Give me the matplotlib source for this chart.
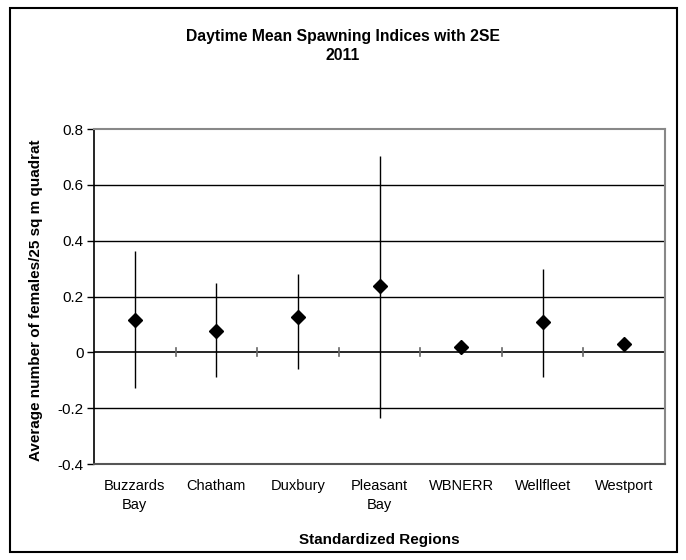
import matplotlib.pyplot as plt
from matplotlib.patches import Rectangle

plt.rcParams['font.family'] = ['Liberation Sans', 'DejaVu Sans']

regions = ['Buzzards\nBay', 'Chatham', 'Duxbury', 'Pleasant\nBay', 'WBNERR', 'Wellfleet', 'Westport']
means = [0.117, 0.075, 0.125, 0.238, 0.020, 0.108, 0.030]
upper = [0.364, 0.249, 0.280, 0.705, 0.020, 0.297, 0.030]
lower = [-0.127, -0.088, -0.058, -0.234, 0.020, -0.087, 0.030]
yticks = [-0.4, -0.2, 0, 0.2, 0.4, 0.6, 0.8]
ytick_labels = ['-0.4', '-0.2', '0', '0.2', '0.4', '0.6', '0.8']

fig = plt.figure(figsize=(6.86, 5.6), dpi=100)
ax = fig.add_axes([94 / 686, 1 - 464 / 560, 571 / 686, 335 / 560])

x = list(range(len(regions)))
err_lo = [m - lo for m, lo in zip(means, lower)]
err_hi = [hi - m for m, hi in zip(means, upper)]
ax.errorbar(x, means, yerr=[err_lo, err_hi], fmt='none', ecolor='black', elinewidth=1.0, capsize=0, zorder=3)
ax.plot(x, means, 'D', color='black', markersize=7, zorder=4)

# horizontal gridlines and the category axis along zero
for yv in [-0.2, 0.2, 0.4, 0.6]:
    ax.axhline(yv, color='black', lw=1.0, zorder=1)
ax.axhline(0, color='black', lw=1.2, zorder=2)
for b in [i + 0.5 for i in range(len(regions))]:
    ax.plot([b, b], [-0.014, 0.014], color='#666666', lw=1.2, zorder=2, clip_on=False)

ax.set_xlim(-0.5, len(regions) - 0.5)
ax.set_ylim(-0.4, 0.8)
ax.set_yticks(yticks)
ax.set_yticklabels(ytick_labels, fontsize=11)
ax.tick_params(axis='y', direction='out', length=5, width=1, color='black', pad=2.5)
ax.set_xticks(x)
ax.set_xticklabels(regions, fontsize=10.5, linespacing=1.45)
ax.tick_params(axis='x', length=0, pad=11)

for side in ['top', 'right', 'bottom']:
    ax.spines[side].set_color('#888888')
    ax.spines[side].set_linewidth(1.5)
ax.spines['bottom'].set_color('#555555')
ax.spines['left'].set_color('black')
ax.spines['left'].set_linewidth(1.2)

ax.set_ylabel('Average number of females/25 sq m quadrat', fontsize=11, fontweight='bold')
ax.yaxis.set_label_coords(-0.09, 0.49)
ax.set_xlabel('Standardized Regions', fontsize=11, fontweight='bold')
ax.xaxis.set_label_coords(0.5, -0.207)

fig.text(0.5, 1 - 36 / 560, 'Daytime Mean Spawning Indices with 2SE', ha='center', va='center',
         fontsize=11.3, fontweight='bold')
fig.text(0.5, 1 - 55 / 560, '2011', ha='center', va='center', fontsize=11.3, fontweight='bold')

fig.patches.append(Rectangle((10 / 686, 8 / 560), 667 / 686, 544 / 560, transform=fig.transFigure,
                             fill=False, edgecolor='black', lw=1.5))

fig.savefig('out.png', dpi=100)
